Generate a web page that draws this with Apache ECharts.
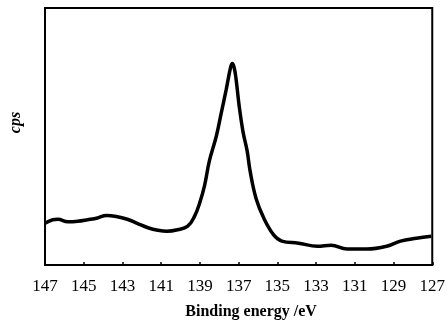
<!DOCTYPE html>
<html>
<head>
<meta charset="utf-8">
<script src="https://cdn.jsdelivr.net/npm/echarts@6/dist/echarts.min.js"></script>
<style>
  html, body { margin: 0; padding: 0; background: #fff; }
  #chart { width: 448px; height: 325px; }
</style>
</head>
<body>
<div id="chart"></div>
<script>
// binding energy (eV) and intensity (arbitrary cps)
const energy = [147.0, 146.6, 146.33, 145.82, 145.31, 144.8, 144.29, 143.83, 143.32, 142.75, 142.24, 141.68, 141.17, 140.71,
  140.15, 139.63, 139.28, 139.02, 138.76, 138.51, 138.15, 137.89, 137.64, 137.43, 137.33, 137.23, 137.13, 136.97,
  136.77, 136.56, 136.41, 136.10, 135.69, 135.18, 134.77, 133.91, 132.93, 132.22, 131.40, 130.38, 129.35, 128.64,
  127.82, 127.05];
const intensity = [16.2, 17.6, 17.8, 16.8, 17.0, 17.6, 18.3, 19.3, 18.9, 17.8, 16.2, 14.5, 13.5, 13.1,
  13.7, 15.1, 18.9, 23.9, 30.9, 40.5, 50.2, 59.4, 68.3, 76.4, 78.4, 76.8, 72.2, 61.8,
  51.7, 44.4, 36.7, 25.9, 18.1, 11.6, 9.3, 8.5, 7.3, 7.7, 6.2, 6.2, 7.3, 9.3,
  10.4, 11.2];
const tickLabels = [147, 145, 143, 141, 139, 137, 135, 133, 131, 129, 127];

const chart = echarts.init(document.getElementById('chart'), null, { renderer: 'canvas' });

const serif = '"Liberation Serif", "DejaVu Serif", serif';

chart.setOption({
  backgroundColor: '#fff',
  animation: false,
  grid: {
    left: 42, right: 15, top: 8, bottom: 58,
    show: true, borderColor: '#000', borderWidth: 2
  },
  xAxis: {
    type: 'value',
    inverse: true,
    min: 127,
    max: 147,
    name: 'Binding energy /eV',
    nameLocation: 'middle',
    nameGap: 39,
    nameTextStyle: { fontFamily: serif, fontWeight: 'bold', fontSize: 16, color: '#000', padding: [0, 0, 0, 25] },
    axisLine: { show: true, onZero: false, lineStyle: { color: '#000', width: 2 } },
    axisTick: { show: true, inside: true, length: 3, customValues: tickLabels, lineStyle: { color: '#000', width: 1.5 } },
    axisLabel: { customValues: tickLabels, margin: 13, fontFamily: serif, fontSize: 17, color: '#000' },
    splitLine: { show: false }
  },
  yAxis: {
    type: 'value',
    min: 0,
    max: 100,
    name: 'cps',
    nameLocation: 'middle',
    nameGap: 21,
    nameRotate: 90,
    nameTextStyle: { fontFamily: serif, fontWeight: 'bold', fontStyle: 'italic', fontSize: 16, color: '#000', padding: [0, 0, 0, 28] },
    axisLine: { show: true, lineStyle: { color: '#000', width: 2 } },
    axisTick: { show: false },
    axisLabel: { show: false },
    splitLine: { show: false }
  },
  series: [{
    type: 'line',
    data: energy.map((e, i) => [e, intensity[i]]),
    smooth: 0.4,
    symbol: 'none',
    lineStyle: { color: '#000', width: 3.5 }
  }]
});
</script>
</body>
</html>
